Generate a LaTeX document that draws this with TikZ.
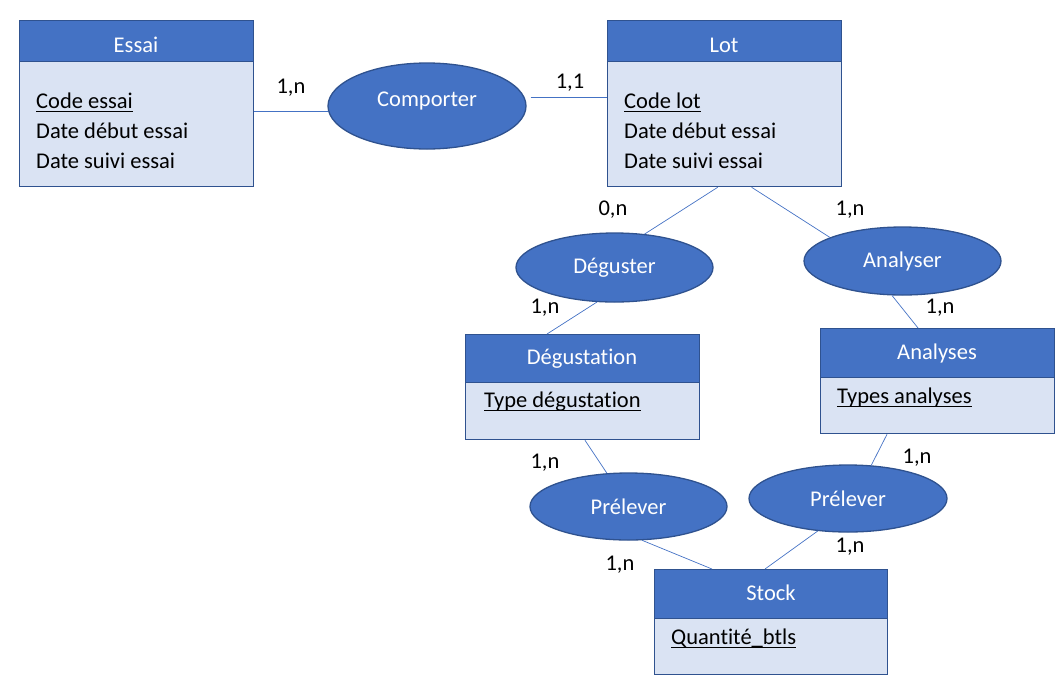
\documentclass[tikz,border=0pt]{standalone}
\usepackage{fontspec}
\setmainfont[Ligatures={NoCommon}]{Carlito}
\usetikzlibrary{shapes.geometric}
\definecolor{hdr}{HTML}{4472C4}
\definecolor{bodyc}{HTML}{DAE3F3}
\definecolor{edgec}{HTML}{2F528F}
\newcommand{\ulfix}[1]{\leavevmode\setbox0=\hbox{#1}\rlap{\rule[-4pt]{\wd0}{1.1pt}}\box0}
\begin{document}
\begin{tikzpicture}[x=1pt,y=-1pt,
  every node/.style={font=\fontsize{22.5}{27}\selectfont},
  entbody/.style={draw=edgec, fill=bodyc, line width=1.3pt, anchor=north west, inner sep=0, minimum width=234},
  enthead/.style={draw=edgec, fill=hdr, line width=1.3pt, anchor=north west, inner sep=0, minimum width=234},
  title/.style={text=white, inner sep=0, anchor=base},
  attr/.style={inner sep=0, anchor=base west, text=black},
  rel/.style={ellipse, draw=edgec, fill=hdr, line width=1.3pt, text=white, inner sep=0},
  card/.style={inner sep=0, text=black},
  link/.style={draw=hdr, line width=0.7pt}]
\useasboundingbox (0,0) rectangle (1062,681);

% Entities
\node[entbody, minimum height=166] (essai) at (19,20) {};
\node[enthead, minimum height=41] (essaiH) at (19,20) {};
\node[title] (essaiT) at (136,52) {Essai};
\node[attr] (essaiA1) at (36,108) {\ulfix{Code essai}};
\node[attr] (essaiA2) at (36,138) {Date début essai};
\node[attr] (essaiA3) at (36,168) {Date suivi essai};

\node[entbody, minimum height=166] (lot) at (607,20) {};
\node[enthead, minimum height=41] (lotH) at (607,20) {};
\node[title] (lotT) at (724,52) {Lot};
\node[attr] (lotA1) at (624,108) {\ulfix{Code lot}};
\node[attr] (lotA2) at (624,138) {Date début essai};
\node[attr] (lotA3) at (624,168) {Date suivi essai};

\node[entbody, minimum height=105] (degust) at (465,334) {};
\node[enthead, minimum height=48] (degustH) at (465,334) {};
\node[title] (degustT) at (582,364) {Dégustation};
\node[attr] (degustA1) at (484,407) {\ulfix{Type dégustation}};

\node[entbody, minimum height=105] (analyses) at (820,328) {};
\node[enthead, minimum height=49] (analysesH) at (820,328) {};
\node[title] (analysesT) at (937,359) {Analyses};
\node[attr] (analysesA1) at (837,403) {\ulfix{Types analyses}};

\node[entbody, minimum height=105, minimum width=233] (stock) at (654,569) {};
\node[enthead, minimum height=49, minimum width=233] (stockH) at (654,569) {};
\node[title] (stockT) at (771,600) {Stock};
\node[attr] (stockA1) at (671,644) {\ulfix{Quantité\_btls}};

% Relations
\node[rel, minimum width=198, minimum height=86, text depth=13pt] (comporter) at (427,106) {Comporter};
\node[rel, minimum width=197, minimum height=69] (deguster) at (614.5,267.5) {Déguster};
\node[rel, minimum width=197, minimum height=68] (analyser) at (902.5,261) {Analyser};
\node[rel, minimum width=197, minimum height=67] (prelever1) at (628.5,506.5) {Prélever};
\node[rel, minimum width=198, minimum height=67] (prelever2) at (848,498.5) {Prélever};

% Connectors
\draw[link] (comporter.183) -- (essai.east |- comporter.183);
\draw[link] ([xshift=6pt]comporter.5) -- (lot.west |- comporter.5);
\draw[link] ([xshift=-7pt]lot.south) -- (deguster.48);
\draw[link] ([xshift=27pt]lot.south) -- (analyser.162);
\draw[link] (deguster.243) -- ([xshift=82pt]degust.north west);
\draw[link] (analyser.253) -- ([xshift=98pt]analyses.north west);
\draw[link] ([xshift=120pt]degust.south west) -- (prelever1.123);
\draw[link] ([xshift=67pt]analyses.south west) -- (prelever2.55);
\draw[link] (prelever1.292) -- ([xshift=58pt]stock.north west);
\draw[link] (prelever2.227) -- ([xshift=111pt]stock.north west);

% Cardinalities
\node[card] (c1) at (291,88) {1,n};
\node[card] (c2) at (570,83) {1,1};
\node[card] (c3) at (613,210) {0,n};
\node[card] (c4) at (850,210) {1,n};
\node[card] (c5) at (545,308) {1,n};
\node[card] (c6) at (940,308) {1,n};
\node[card] (c7) at (545,463) {1,n};
\node[card] (c8) at (917,458) {1,n};
\node[card] (c9) at (620,565) {1,n};
\node[card] (c10) at (850,547) {1,n};
\end{tikzpicture}
\end{document}
